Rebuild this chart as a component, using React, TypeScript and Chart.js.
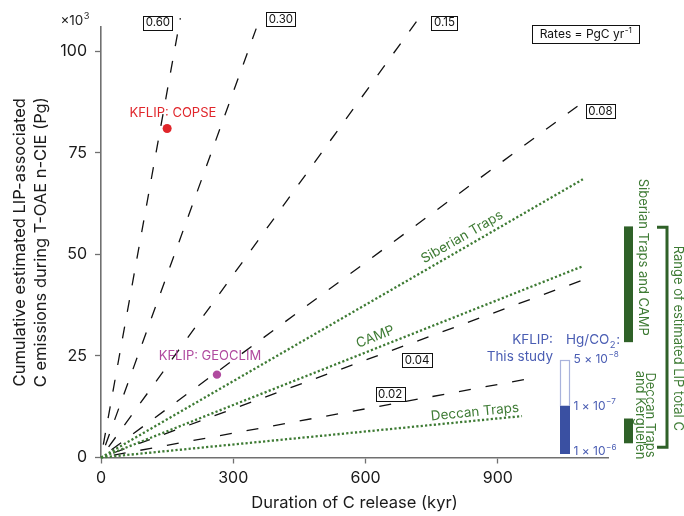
import React, { useEffect, useRef } from "react";
import { Chart, registerables } from "chart.js";
Chart.register(...registerables);

const F = "Inter, 'Liberation Sans', sans-serif";

// Axes
const xTicks = [0, 300, 600, 900];
const yTicks = [0, 25, 50, 75, 100];
const xMax = 1150;
const yMax = 106;

// Constant-rate reference lines (PgC/yr), end points
const rateLabels = ["0.60", "0.30", "0.15", "0.08", "0.04", "0.02"];
const rateEndX = [180, 352, 718, 1087, 1093, 966];
const rateEndY = [108.2, 105.6, 107.7, 87.0, 43.7, 19.3];
const rateBoxX = [129, 408, 779, 1133, 717, 656];
const rateBoxY = [107.1, 108.0, 107.1, 85.4, 24.0, 15.6];

// LIP emission trajectories
const lipNames = ["Siberian Traps", "CAMP", "Deccan Traps"];
const lipEndX = [1093, 1093, 955];
const lipEndY = [68.5, 47.1, 10.2];
const lipLabelX = [819, 622, 848];
const lipLabelY = [54.3, 29.7, 11.2];

// Model results
const modelNames = ["KFLIP: COPSE", "KFLIP: GEOCLIM"];
const modelX = [150, 263];
const modelY = [81, 20.4];
const modelColors = ["#e0262b", "#b04a9f"];
const modelLabelX = [163, 247];
const modelLabelY = [84.8, 25.0];

// Range of LIP total C (Pg x10^3)
const rangeNames = ["Siberian Traps and CAMP", "Deccan Traps and Kerguelen"];
const rangeLow = [28.4, 3.5];
const rangeHigh = [56.9, 9.6];
const totalRangeLow = 2.5;
const totalRangeHigh = 56.7;

// Hg/CO2 colour bar
const hgLabels = [["5 × 10", "−8"], ["1 × 10", "−7"], ["1 × 10", "−6"]];
const hgLabelY = [24.2, 12.6, 1.4];
const hgBarTop = 24.0;
const hgBarMid = 12.6;
const hgBarBottom = 1.1;
const hgBarX0 = 1041;
const hgBarX1 = 1061;

const GREEN = "#3e7b34";
const DKGREEN = "#2f6128";
const BLUE = "#4a5db3";
const AXIS = "#707070";

function supText(ctx: CanvasRenderingContext2D, base: string, sup: string, x: number, y: number, size: number, align: "left" | "center" | "right") {
  ctx.font = `${size}px ${F}`;
  const wb = ctx.measureText(base).width;
  ctx.font = `${size * 0.68}px ${F}`;
  const ws = ctx.measureText(sup).width;
  const total = wb + ws;
  let x0 = x;
  if (align === "center") x0 = x - total / 2;
  if (align === "right") x0 = x - total;
  ctx.textAlign = "left";
  ctx.textBaseline = "middle";
  ctx.font = `${size}px ${F}`;
  ctx.fillText(base, x0, y);
  ctx.font = `${size * 0.68}px ${F}`;
  ctx.fillText(sup, x0 + wb + 0.5, y - size * 0.38);
}

const annotPlugin = {
  id: "annot",
  afterDatasetsDraw(chart: any) {
    const ctx: CanvasRenderingContext2D = chart.ctx;
    const xs = chart.scales.x;
    const ys = chart.scales.y;
    const X = (v: number) => xs.getPixelForValue(v);
    const Y = (v: number) => ys.getPixelForValue(v);
    const ca = chart.chartArea;
    ctx.save();

    // rate boxes
    rateLabels.forEach((t, i) => {
      const cx = X(rateBoxX[i]);
      const cy = Y(rateBoxY[i]);
      ctx.font = `11.5px ${F}`;
      const w = Math.round(ctx.measureText(t).width + 5);
      const h = 14;
      const lx = Math.round(cx - w / 2) + 0.5;
      const ty = Math.round(cy - h / 2) + 0.5;
      ctx.fillStyle = "#fff";
      ctx.fillRect(lx, ty, w, h);
      ctx.strokeStyle = "#111";
      ctx.lineWidth = 1;
      ctx.strokeRect(lx, ty, w, h);
      ctx.fillStyle = "#111";
      ctx.textAlign = "center";
      ctx.textBaseline = "middle";
      ctx.fillText(t, cx, cy + 0.5);
    });

    // Rates box
    {
      const cx = X(1099);
      const cy = Y(104.2);
      const w = 107, h = 18;
      ctx.strokeStyle = "#111";
      ctx.lineWidth = 1;
      ctx.strokeRect(Math.round(cx - w / 2) + 0.5, Math.round(cy - h / 2) + 0.5, w, h);
      ctx.fillStyle = "#111";
      supText(ctx, "Rates = PgC yr", "-1", cx, cy + 0.5, 12, "center");
    }

    // LIP line labels
    lipNames.forEach((t, i) => {
      const ang = Math.atan2(Y(lipEndY[i]) - Y(0), X(lipEndX[i]) - X(0));
      ctx.save();
      ctx.translate(X(lipLabelX[i]), Y(lipLabelY[i]));
      ctx.rotate(ang);
      ctx.font = `13.5px ${F}`;
      ctx.fillStyle = GREEN;
      ctx.textAlign = "center";
      ctx.textBaseline = "middle";
      ctx.fillText(t, 0, 0);
      ctx.restore();
    });

    // model labels
    modelNames.forEach((t, i) => {
      ctx.font = `13px ${F}`;
      ctx.fillStyle = modelColors[i];
      ctx.textAlign = "center";
      ctx.textBaseline = "middle";
      ctx.fillText(t, X(modelLabelX[i]), Y(modelLabelY[i]));
    });

    // x10^3
    ctx.fillStyle = "#222";
    supText(ctx, "×10", "3", 89, 21, 13.5, "right");

    // Right side range bars
    const r = ca.right;
    ctx.fillStyle = DKGREEN;
    rangeNames.forEach((_, i) => {
      const t = Y(rangeHigh[i]);
      const b = Y(rangeLow[i]);
      ctx.fillRect(r + 16, t, 9, b - t);
    });
    // bracket
    ctx.strokeStyle = DKGREEN;
    ctx.lineWidth = 3;
    ctx.beginPath();
    ctx.moveTo(r + 49, Y(totalRangeHigh));
    ctx.lineTo(r + 59, Y(totalRangeHigh));
    ctx.lineTo(r + 59, Y(totalRangeLow));
    ctx.lineTo(r + 49, Y(totalRangeLow));
    ctx.stroke();

    // rotated texts (reading top to bottom)
    const vtext = (t: string, x: number, y: number, size: number, color: string) => {
      ctx.save();
      ctx.translate(x, y);
      ctx.rotate(Math.PI / 2);
      ctx.font = `${size}px ${F}`;
      ctx.fillStyle = color;
      ctx.textAlign = "center";
      ctx.textBaseline = "middle";
      ctx.fillText(t, 0, 0);
      ctx.restore();
    };
    vtext(rangeNames[0], r + 35, (Y(rangeHigh[0]) + Y(rangeLow[0])) / 2 - 27, 13, GREEN);
    vtext("Deccan Traps", r + 42, 415, 13, GREEN);
    vtext("and Kerguelen", r + 32, 415, 13, GREEN);
    vtext("Range of estimated LIP total C", r + 70, (Y(totalRangeHigh) + Y(totalRangeLow)) / 2 + 1, 13, GREEN);

    // Hg/CO2 colour bar
    const bx0 = Math.round(X(hgBarX0)) + 0.5;
    const bx1 = Math.round(X(hgBarX1)) + 0.5;
    const bt = Math.round(Y(hgBarTop)) + 0.5;
    const bm = Math.round(Y(hgBarMid));
    const bb = Math.round(Y(hgBarBottom)) + 0.5;
    ctx.fillStyle = "#fff";
    ctx.fillRect(bx0, bt, bx1 - bx0, bm - bt);
    ctx.strokeStyle = "#a9b3dc";
    ctx.lineWidth = 1.2;
    ctx.strokeRect(bx0, bt, bx1 - bx0, bm - bt);
    ctx.fillStyle = "#3a50a2";
    ctx.fillRect(bx0 - 0.5, bm, bx1 - bx0 + 1, bb - bm + 0.5);

    ctx.fillStyle = BLUE;
    hgLabels.forEach((l, i) => {
      supText(ctx, l[0], l[1], bx1 + 4, Y(hgLabelY[i]), 12, "left");
    });
    ctx.font = `13.5px ${F}`;
    ctx.textAlign = "right";
    ctx.textBaseline = "middle";
    ctx.fillText("KFLIP:", 553, 340);
    ctx.fillText("This study", 553, 357);
    // Hg/CO2:
    ctx.textAlign = "left";
    ctx.font = `13.5px ${F}`;
    const w1 = ctx.measureText("Hg/CO").width;
    ctx.fillText("Hg/CO", 566, 340);
    ctx.font = `9.5px ${F}`;
    const w2 = ctx.measureText("2").width;
    ctx.fillText("2", 566 + w1 + 0.5, 345);
    ctx.font = `13.5px ${F}`;
    ctx.fillText(":", 566 + w1 + w2 + 1, 340);

    // axis titles
    ctx.fillStyle = "#1a1a1a";
    ctx.font = `16.5px ${F}`;
    ctx.textAlign = "center";
    ctx.textBaseline = "middle";
    ctx.fillText("Duration of C release (kyr)", (ca.left + ca.right) / 2, 503);
    ctx.save();
    ctx.translate(20, (ca.top + ca.bottom) / 2);
    ctx.rotate(-Math.PI / 2);
    ctx.fillText("Cumulative estimated LIP-associated", 0, 0);
    ctx.fillText("C emissions during T-OAE n-CIE (Pg)", 0, 21);
    ctx.restore();

    ctx.restore();
  },
};

export default function App() {
  const ref = useRef<HTMLCanvasElement>(null);
  useEffect(() => {
    document.body.style.margin = "0";
    const datasets: any[] = [];
    modelNames.forEach((n, i) => {
      datasets.push({
        label: n,
        data: [{ x: modelX[i], y: modelY[i] }],
        showLine: false,
        pointRadius: i === 0 ? 4.5 : 4.2,
        pointBackgroundColor: modelColors[i],
        pointBorderColor: modelColors[i],
        pointBorderWidth: 0,
      });
    });
    lipNames.forEach((n, i) => {
      datasets.push({
        label: n,
        data: [{ x: 0, y: 0 }, { x: lipEndX[i], y: lipEndY[i] }],
        showLine: true,
        borderColor: GREEN,
        borderWidth: 2.3,
        borderDash: [2.2, 2.2],
        borderCapStyle: "butt",
        pointRadius: 0,
        clip: false,
      });
    });
    rateLabels.forEach((n, i) => {
      datasets.push({
        label: n,
        data: [{ x: 0, y: 0 }, { x: rateEndX[i], y: rateEndY[i] }],
        showLine: true,
        borderColor: "#111",
        borderWidth: 1.3,
        borderDash: [12, 15],
        borderDashOffset: 14,
        pointRadius: 0,
        clip: false,
      });
    });

    const chart = new Chart(ref.current!, {
      type: "scatter",
      data: { datasets },
      options: {
        animation: false,
        responsive: false,
        events: [],
        layout: { padding: { left: 0, right: 76, top: 27, bottom: 0 } },
        plugins: { legend: { display: false }, tooltip: { enabled: false } },
        scales: {
          x: {
            type: "linear",
            min: 0,
            max: xMax,
            afterBuildTicks: (s: any) => {
              s.ticks = xTicks.map((v) => ({ value: v }));
            },
            afterFit: (s: any) => {
              s.height = 58.5;
            },
            border: { display: true, color: AXIS, width: 1.6 },
            grid: { display: true, drawOnChartArea: false, drawTicks: true, tickLength: 6, tickColor: AXIS, tickWidth: 1.3 },
            ticks: { font: { family: F, size: 16 }, color: "#1a1a1a", padding: 5, maxRotation: 0 },
          },
          y: {
            type: "linear",
            min: 0,
            max: yMax,
            afterBuildTicks: (s: any) => {
              s.ticks = yTicks.map((v) => ({ value: v }));
            },
            afterFit: (s: any) => {
              s.width = 101;
            },
            border: { display: true, color: AXIS, width: 1.6 },
            grid: { display: true, drawOnChartArea: false, drawTicks: true, tickLength: 6, tickColor: AXIS, tickWidth: 1.3 },
            ticks: { font: { family: F, size: 16 }, color: "#1a1a1a", padding: 8 },
          },
        },
      },
      plugins: [annotPlugin],
    } as any);
    return () => chart.destroy();
  }, []);
  return (
    <div style={{ width: 684, height: 516, background: "#fff" }}>
      <canvas ref={ref} width={684} height={516} style={{ display: "block" }} />
    </div>
  );
}
